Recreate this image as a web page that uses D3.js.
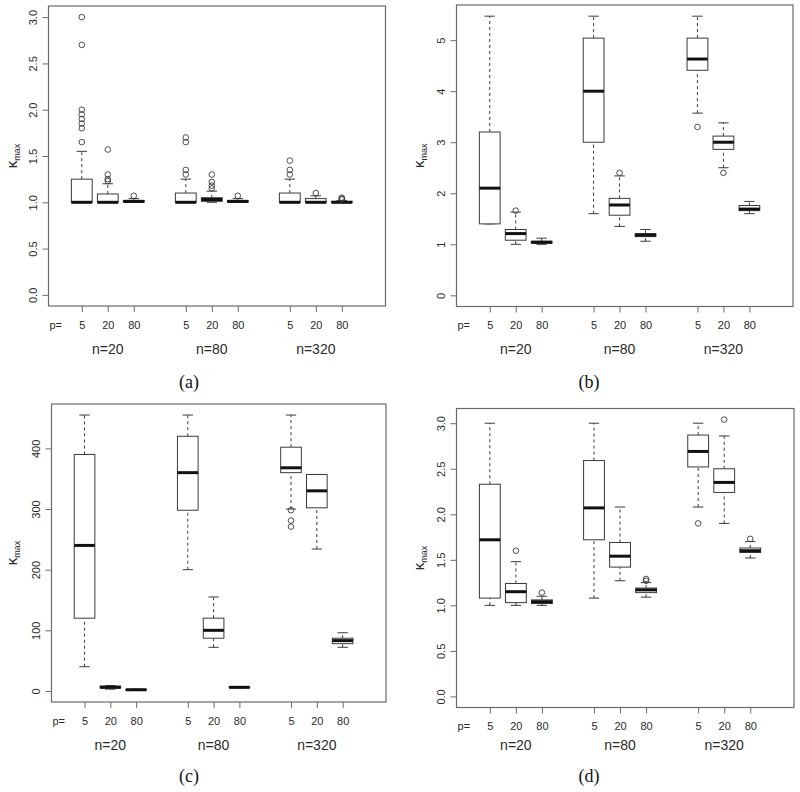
<!DOCTYPE html>
<html>
<head>
<meta charset="utf-8">
<script src="https://cdn.jsdelivr.net/npm/d3@7"></script>
<style>
  html, body { margin: 0; padding: 0; background: #fff; }
  svg { display: block; }
</style>
</head>
<body>
<script>
// ---------------- data ----------------
const panelNames = ["(a)", "(b)", "(c)", "(d)"];
const groupLabels = ["n=20", "n=80", "n=320"];
const pLabels = ["5", "20", "80"];
const boxPositions = [1, 2, 3, 5, 6, 7, 9, 10, 11];
const groupCenters = [2, 6, 10];

// [lower whisker, Q1, median, Q3, upper whisker] for each box (n=20: p=5,20,80; n=80: ...; n=320: ...)
const statsA = [
  [1.00, 1.00, 1.00, 1.25, 1.55],
  [1.00, 1.00, 1.00, 1.09, 1.20],
  [1.00, 1.00, 1.01, 1.02, 1.04],
  [1.00, 1.00, 1.00, 1.10, 1.25],
  [1.00, 1.01, 1.03, 1.05, 1.12],
  [1.00, 1.00, 1.01, 1.02, 1.04],
  [1.00, 1.00, 1.00, 1.10, 1.25],
  [1.00, 1.00, 1.00, 1.04, 1.07],
  [1.00, 1.00, 1.00, 1.01, 1.02]
];
const outA = [
  [1.65, 1.80, 1.85, 1.90, 1.95, 2.00, 2.70, 3.00],
  [1.23, 1.25, 1.30, 1.57],
  [1.07],
  [1.30, 1.35, 1.65, 1.70],
  [1.15, 1.18, 1.22, 1.30],
  [1.07],
  [1.30, 1.35, 1.45],
  [1.10],
  [1.03, 1.04, 1.05]
];

const statsB = [
  [1.40, 1.40, 2.10, 3.20, 5.47],
  [1.00, 1.08, 1.21, 1.29, 1.63],
  [1.00, 1.02, 1.04, 1.06, 1.12],
  [1.60, 3.00, 4.00, 5.04, 5.47],
  [1.35, 1.57, 1.77, 1.90, 2.34],
  [1.06, 1.15, 1.18, 1.21, 1.29],
  [3.57, 4.41, 4.63, 5.04, 5.47],
  [2.50, 2.86, 3.00, 3.12, 3.38],
  [1.60, 1.66, 1.69, 1.76, 1.84]
];
const outB = [[], [1.66], [], [], [2.40], [], [3.30], [2.40], []];

const statsC = [
  [40, 120, 240, 390, 455],
  [3, 5, 6, 8, 9],
  [1, 1.5, 2, 2.5, 3],
  [200, 298, 360, 420, 455],
  [72, 87, 100, 120, 155],
  [5, 5.5, 6, 6.5, 7],
  [300, 360, 368, 402, 455],
  [234, 302, 330, 357, 357],
  [72, 78, 83, 87, 96]
];
const outC = [[], [], [], [], [], [], [298, 281, 271], [], []];

const statsD = [
  [1.00, 1.08, 1.72, 2.33, 3.00],
  [1.00, 1.03, 1.15, 1.24, 1.48],
  [1.00, 1.02, 1.04, 1.06, 1.10],
  [1.08, 1.72, 2.07, 2.59, 3.00],
  [1.27, 1.42, 1.54, 1.69, 2.08],
  [1.09, 1.14, 1.17, 1.19, 1.25],
  [2.08, 2.52, 2.69, 2.87, 3.00],
  [1.90, 2.24, 2.35, 2.50, 2.86],
  [1.52, 1.58, 1.60, 1.63, 1.70]
];
const outD = [[], [1.60], [1.14], [], [], [1.27, 1.29], [1.90], [3.04], [1.73]];

const ticksA = [0, 0.5, 1, 1.5, 2, 2.5, 3];
const ticksB = [0, 1, 2, 3, 4, 5];
const ticksC = [0, 100, 200, 300, 400];
const ticksD = [0, 0.5, 1, 1.5, 2, 2.5, 3];
const tickFormats = [".1f", "d", "d", ".1f"];

// ---------------- layout ----------------
const W = 800, H = 792;
const layout = [
  { left: 48.5, right: 385.5, top: 6,   bottom: 306,   ylab: 12,  cap: 189, nY: 354, capY: 388 },
  { left: 456.5, right: 793,  top: 5,   bottom: 306.5, ylab: 419, cap: 589, nY: 354, capY: 388 },
  { left: 51.5, right: 386,   top: 404, bottom: 702,   ylab: 12,  cap: 189, nY: 750, capY: 782 },
  { left: 456.5, right: 794,  top: 408.5, bottom: 707.5, ylab: 419, cap: 589, nY: 750, capY: 782 }
];
const allStats = [statsA, statsB, statsC, statsD];
const allOut = [outA, outB, outC, outD];
const allTicks = [ticksA, ticksB, ticksC, ticksD];

const FONT = "'Liberation Sans', Arial, Helvetica, sans-serif";
const TXT = "#2a2a2a";
const BOX = "#3a3a3a";
const FRAME = "#6a6a6a";

const svg = d3.select("body").append("svg")
  .attr("width", W).attr("height", H)
  .attr("viewBox", `0 0 ${W} ${H}`);

allStats.forEach((stats, pi) => {
  const L = layout[pi];
  const outs = allOut[pi];

  const x = d3.scaleLinear().domain([-0.28, 12.68]).range([L.left, L.right]);
  const dataMax = d3.max([d3.max(stats, d => d[4]), d3.max(outs.flat()) || 0]);
  const ext = dataMax * 0.04;
  const y = d3.scaleLinear().domain([0 - ext, dataMax + ext]).range([L.bottom, L.top]);

  const g = svg.append("g");

  // y axis
  const yAx = g.append("g")
    .attr("transform", `translate(${L.left},0)`)
    .call(d3.axisLeft(y).tickValues(allTicks[pi]).tickFormat(d3.format(tickFormats[pi])).tickSize(6));
  yAx.select(".domain").remove();
  yAx.selectAll(".tick line").attr("stroke", FRAME);
  yAx.selectAll(".tick text")
    .attr("transform", "rotate(-90)")
    .attr("x", 0).attr("y", -15.5).attr("dy", "0.35em")
    .attr("text-anchor", "middle")
    .attr("fill", TXT)
    .style("font-family", FONT).style("font-size", "11px");

  // x axis
  const xAx = g.append("g")
    .attr("transform", `translate(0,${L.bottom})`)
    .call(d3.axisBottom(x).tickValues(boxPositions)
      .tickFormat((d, i) => pLabels[i % 3]).tickSize(6).tickPadding(9));
  xAx.select(".domain").remove();
  xAx.selectAll(".tick line").attr("stroke", FRAME);
  xAx.selectAll(".tick text")
    .attr("fill", TXT)
    .style("font-family", FONT).style("font-size", "11px");

  // "p=" label
  g.append("text")
    .attr("x", x(0)).attr("y", L.bottom + 15).attr("dy", "0.71em")
    .attr("text-anchor", "middle").attr("fill", TXT)
    .style("font-family", FONT).style("font-size", "11px")
    .text("p=");

  // n labels
  g.selectAll(".nlab").data(groupLabels).enter().append("text")
    .attr("x", (d, i) => x(groupCenters[i]))
    .attr("y", L.nY)
    .attr("text-anchor", "middle").attr("fill", TXT)
    .style("font-family", FONT).style("font-size", "14px")
    .text(d => d);

  // caption
  g.append("text")
    .attr("x", L.cap).attr("y", L.capY)
    .attr("text-anchor", "middle").attr("fill", "#111")
    .style("font-family", "'Liberation Serif', 'DejaVu Serif', serif").style("font-size", "18px")
    .text(panelNames[pi]);

  // y label kappa_max
  const yl = g.append("text")
    .attr("transform", `translate(${L.ylab},${(L.top + L.bottom) / 2}) rotate(-90)`)
    .attr("text-anchor", "middle").attr("dy", "0.35em").attr("fill", TXT)
    .style("font-family", FONT).style("font-size", "15px");
  yl.append("tspan").text("κ");
  yl.append("tspan").attr("dy", "3").style("font-size", "9px").text("max");

  // boxes
  const bw = x(0.4) - x(0);   // half box width (boxwex 0.8)
  const sw = x(0.2) - x(0);   // half staple width
  const boxes = g.selectAll(".bx").data(stats).enter().append("g");
  boxes.each(function(s, i) {
    const b = d3.select(this);
    const cx = x(boxPositions[i]);
    // whiskers
    b.append("line").attr("x1", cx).attr("x2", cx).attr("y1", y(s[0])).attr("y2", y(s[1]))
      .attr("stroke", BOX).attr("stroke-width", 1).attr("stroke-dasharray", "3,3");
    b.append("line").attr("x1", cx).attr("x2", cx).attr("y1", y(s[3])).attr("y2", y(s[4]))
      .attr("stroke", BOX).attr("stroke-width", 1).attr("stroke-dasharray", "3,3");
    // staples
    [s[0], s[4]].forEach(v => {
      b.append("line").attr("x1", cx - sw).attr("x2", cx + sw).attr("y1", y(v)).attr("y2", y(v))
        .attr("stroke", BOX).attr("stroke-width", 1);
    });
    // box
    b.append("rect").attr("x", cx - bw).attr("width", 2 * bw)
      .attr("y", y(s[3])).attr("height", Math.max(0.5, y(s[1]) - y(s[3])))
      .attr("fill", "#fff").attr("stroke", BOX).attr("stroke-width", 1);
    // median
    b.append("line").attr("x1", cx - bw).attr("x2", cx + bw).attr("y1", y(s[2])).attr("y2", y(s[2]))
      .attr("stroke", "#111").attr("stroke-width", 3);
    // outliers
    b.selectAll("circle").data(outs[i]).enter().append("circle")
      .attr("cx", cx).attr("cy", v => y(v)).attr("r", 2.8)
      .attr("fill", "none").attr("stroke", BOX).attr("stroke-width", 0.9);
  });

  // frame
  g.append("rect")
    .attr("x", L.left).attr("y", L.top)
    .attr("width", L.right - L.left).attr("height", L.bottom - L.top)
    .attr("fill", "none").attr("stroke", FRAME).attr("stroke-width", 1.2);
});
</script>
</body>
</html>
